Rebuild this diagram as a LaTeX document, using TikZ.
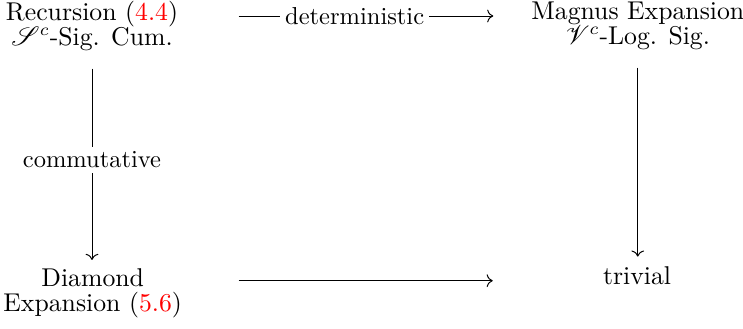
\documentclass[tikz,border=0pt]{standalone}
\usepackage{xcolor}
\usepackage{amsmath}
\usepackage{mathrsfs}
\usepackage{tikz}
\usetikzlibrary{arrows.meta, positioning}

\begin{document}
\begin{tikzpicture}[
    every node/.style={font=\fontsize{10pt}{12pt}\selectfont},
    method/.style={
        align=center,
        inner sep=3.33pt,
        font=\fontsize{10.5pt}{10.4pt}\selectfont
    },
    arrow/.style={
        -{To},
        thin
    },
    lbl/.style={
        fill=white,
        inner sep=2pt
    }
]

\useasboundingbox (0,0) rectangle (10.66,4.72);

\node (rec) [method] at (1.32,4.35) {
Recursion (\textcolor{red}{4.4})\\
$\mathscr{S}^c$-Sig. Cum.
};

\node (mag) [method] at (9.15,4.35) {
Magnus Expansion\\
$\mathscr{V}^c$-Log. Sig.
};

\node (dia) [method] at (1.33,0.51) {
Diamond\\
Expansion (\textcolor{red}{5.6})
};

\node (tri) [method] at (9.14,0.76) {trivial};

\draw [arrow, shorten <=21.2pt, shorten >=12pt]
    ([yshift=4pt]rec.east) -- node[lbl] {deterministic} ([yshift=4pt]mag.west);
\draw [arrow, shorten <=19.6pt, shorten >=41.5pt]
    ([yshift=5.2pt]dia.east) -- ([yshift=5.2pt]dia.east -| tri.west);
\draw [arrow, shorten <=3.7pt]
    (rec.south) -- node[lbl] {commutative} (rec.south |- dia.north);
\draw [arrow, shorten <=3.7pt, shorten >=0.7pt]
    (mag.south) -- (mag.south |- tri.north);

\end{tikzpicture}
\end{document}
